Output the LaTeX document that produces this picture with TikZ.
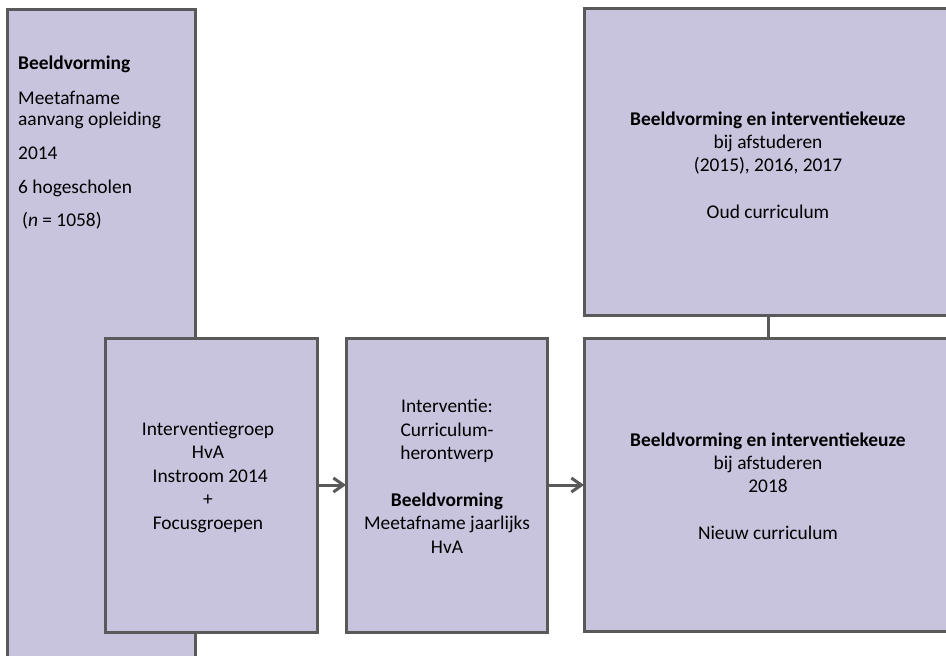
\documentclass[tikz,border=0pt]{standalone}
\usepackage{fontspec}
\setmainfont{Carlito}
\usepackage{tikz}
\usetikzlibrary{positioning, arrows.meta}
\definecolor{boxfill}{RGB}{200,196,222}
\definecolor{boxline}{RGB}{89,89,89}

\begin{document}
\begin{tikzpicture}[
				x=1pt, y=-1pt,
				every node/.style={font=\fontsize{19.4}{23.4}\selectfont},
				box/.style={draw=boxline, fill=boxfill, line width=3pt, rectangle, outer sep=0pt, inner sep=0pt},
				txt/.style={align=center, inner sep=0pt, anchor=base},
				link/.style={draw=boxline, line width=3pt},
				>={Straight Barb[length=10pt, width=14pt]}]

			\clip (0,0) rectangle (946,656);

			\node[box, minimum width=188pt, minimum height=691pt] (nulmeting) at (101,354.5) {};
			\node[box, minimum width=212pt, minimum height=294pt] (groep) at (211,485) {};
			\node[box, minimum width=201pt, minimum height=294pt, right=29pt of groep] (interventie) {};
			\node[box, minimum width=368pt, minimum height=293pt, right=37pt of interventie] (nieuw) {};
			\node[box, minimum width=368pt, minimum height=307pt, above=23pt of nieuw] (oud) {};

			% base anchor = baseline of the last line
			\node[txt, align=left, anchor=base west, font=\fontsize{19.4}{21}\selectfont] (nulmeting_tekst) at (18,226)
				{\textbf{Beeldvorming}\\[14pt] Meetafname\\ aanvang opleiding\\[13pt] 2014\\[13pt] 6 hogescholen\\[12pt] \hspace{4pt}(\textit{n} = 1058)};
			\node[txt] (groep_tekst) at (208,529)
				{Interventiegroep\\ HvA\\ \ Instroom 2014\\ +\\ Focusgroepen};
			\node[txt] (interventie_tekst) at (447,553)
				{Interventie:\\ Curriculum-\\ herontwerp\\[23.4pt] \textbf{Beeldvorming}\\ Meetafname jaarlijks\\ HvA};
			\node[txt] (oud_tekst) at (768,218.6)
				{\textbf{Beeldvorming en interventiekeuze}\\ bij afstuderen\\ (2015), 2016, 2017\\[23.4pt] Oud curriculum};
			\node[txt] (nieuw_tekst) at (768,539.6)
				{\textbf{Beeldvorming en interventiekeuze}\\ bij afstuderen\\ 2018\\[23.4pt] Nieuw curriculum};

			\draw[link, ->] (groep) -- (interventie);
			\draw[link, ->] (interventie) -- (nieuw);
			\draw[link] (oud) -- (nieuw);

		\end{tikzpicture}
\end{document}
